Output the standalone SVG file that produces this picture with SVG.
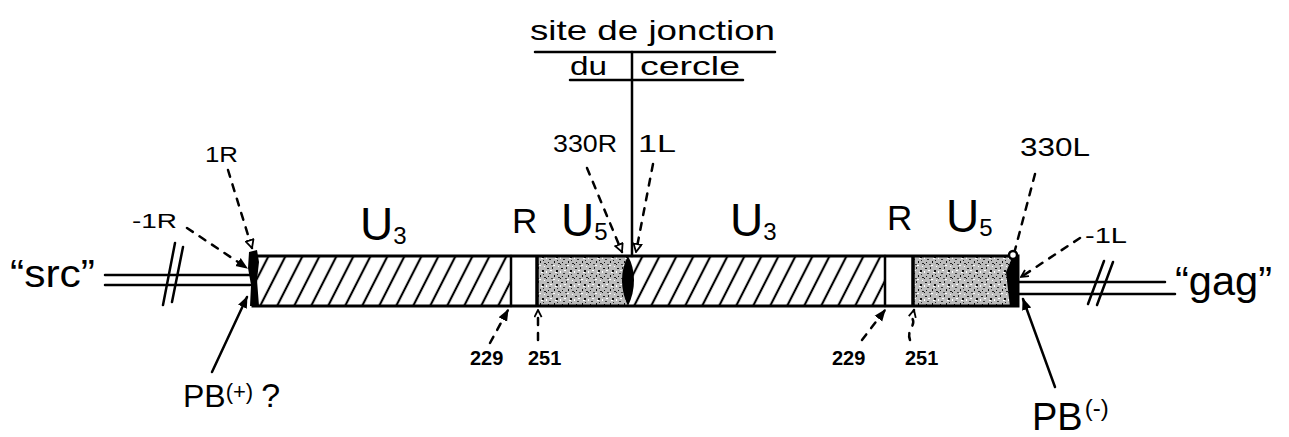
<svg xmlns="http://www.w3.org/2000/svg" width="1289" height="437" viewBox="0 0 1289 437">
<style>
text{font-family:"Liberation Sans","DejaVu Sans",sans-serif;fill:#000}
.ln{stroke:#000;stroke-width:2.5;fill:none;stroke-linecap:round}
.dash{stroke:#000;stroke-width:2.5;fill:none;stroke-dasharray:7 8;stroke-linecap:round}
.num{font-size:20px;font-weight:bold}
.big{font-size:46px}
.sub{font-size:24px}
</style>
<defs>
<pattern id="hatch" patternUnits="userSpaceOnUse" width="17" height="10" patternTransform="skewX(-27)">
<rect width="17" height="10" fill="#fff"/>
<line x1="8" y1="-1" x2="8" y2="11" stroke="#000" stroke-width="2.4"/>
</pattern>
<pattern id="stip" patternUnits="userSpaceOnUse" width="14" height="14">
<rect width="14" height="14" fill="#bcbcbc"/>
<rect x="1" y="2" width="2" height="1" fill="#111"/>
<rect x="6" y="1" width="1" height="2" fill="#222"/>
<rect x="10" y="4" width="2" height="2" fill="#111"/>
<rect x="3" y="7" width="2" height="1" fill="#333"/>
<rect x="8" y="9" width="1" height="2" fill="#111"/>
<rect x="12" y="11" width="2" height="1" fill="#222"/>
<rect x="0" y="12" width="1" height="1" fill="#111"/>
<rect x="5" y="12" width="2" height="1" fill="#444"/>
<rect x="2" y="10" width="1" height="1" fill="#111"/>
<rect x="11" y="8" width="1" height="1" fill="#222"/>
<rect x="12" y="0" width="1" height="1" fill="#fff"/>
<rect x="4" y="4" width="2" height="1" fill="#fff"/>
<rect x="9" y="6" width="2" height="1" fill="#fff"/>
<rect x="0" y="5" width="1" height="2" fill="#fff"/>
<rect x="7" y="13" width="2" height="1" fill="#fff"/>
</pattern>
<marker id="open" viewBox="0 0 10 10" refX="9" refY="5" markerWidth="10" markerHeight="10" markerUnits="userSpaceOnUse" orient="auto">
<path d="M1,1 L9,5 L1,9 Z" fill="#fff" stroke="#000" stroke-width="1.8"/>
</marker>
<marker id="vee" viewBox="0 0 10 10" refX="9" refY="5" markerWidth="9" markerHeight="9" markerUnits="userSpaceOnUse" orient="auto">
<path d="M1,1 L9,5 L1,9" fill="none" stroke="#000" stroke-width="2"/>
</marker>
<marker id="solid" viewBox="0 0 10 10" refX="9" refY="5" markerWidth="12" markerHeight="12" markerUnits="userSpaceOnUse" orient="auto">
<path d="M0,1 L10,5 L0,9 Z" fill="#000"/>
</marker>
</defs>
<rect width="1289" height="437" fill="#fff"/>

<g id="bar">
<rect x="253" y="256" width="258" height="50" fill="url(#hatch)"/>
<rect x="511" y="256" width="25" height="50" fill="#fff"/>
<rect x="536" y="256" width="92" height="50" fill="url(#stip)"/>
<rect x="628" y="256" width="257" height="50" fill="url(#hatch)"/>
<rect x="885" y="256" width="27" height="50" fill="#fff"/>
<rect x="912" y="256" width="100" height="50" fill="url(#stip)"/>
<rect x="253" y="256" width="765" height="50" fill="none" stroke="#000" stroke-width="3"/>
<line class="ln" x1="511" y1="256" x2="511" y2="306"/>
<line x1="537" y1="256" x2="537" y2="306" stroke="#000" stroke-width="3.5"/>
<line class="ln" x1="885" y1="256" x2="885" y2="306"/>
<line x1="913" y1="256" x2="913" y2="306" stroke="#000" stroke-width="3.5"/>
<path d="M249,252 L257,250 L259,262 L257,280 L259,306 L250,306 L251,285 L248,268 Z" fill="#000"/>
<path d="M628,256 C620,270 620,290 628,306 C636,290 636,270 628,256 Z" fill="#000"/>
<path d="M1012,258 L1018,258 L1018,307 L1010,307 L1006,272 Z" fill="#000"/>
<circle cx="1013" cy="255" r="4" fill="#fff" stroke="#000" stroke-width="2.5"/>
</g>

<g id="src">
<line class="ln" x1="105" y1="275" x2="250" y2="275"/>
<line class="ln" x1="105" y1="285" x2="250" y2="285"/>
<line class="ln" x1="175" y1="243" x2="163" y2="305"/>
<line class="ln" x1="183" y1="247" x2="172" y2="302"/>
<text x="10" y="287" font-size="38" textLength="85" lengthAdjust="spacingAndGlyphs">“src”</text>
</g>

<g id="gag">
<line class="ln" x1="1018" y1="282" x2="1165" y2="282"/>
<line class="ln" x1="1018" y1="294" x2="1175" y2="294"/>
<line class="ln" x1="1104" y1="261" x2="1088" y2="304"/>
<line class="ln" x1="1113" y1="262" x2="1097" y2="305"/>
<text x="1175" y="295" font-size="40" textLength="97" lengthAdjust="spacingAndGlyphs">“gag”</text>
</g>

<g id="title">
<text x="530" y="40" font-size="28" textLength="245" lengthAdjust="spacingAndGlyphs">site de jonction</text>
<line class="ln" x1="535" y1="52" x2="775" y2="52"/>
<text x="570" y="75" font-size="26" textLength="37" lengthAdjust="spacingAndGlyphs">du</text>
<text x="640" y="75" font-size="26" textLength="100" lengthAdjust="spacingAndGlyphs">cercle</text>
<line class="ln" x1="570" y1="80" x2="743" y2="80"/>
</g>

<g id="seg-labels">
<text x="360" y="240" class="big">U<tspan class="sub" dy="4">3</tspan></text>
<text x="512" y="233" font-size="35">R</text>
<text x="561" y="236" class="big">U<tspan class="sub" dy="4">5</tspan></text>
<text x="730" y="236" class="big">U<tspan class="sub" dy="4">3</tspan></text>
<text x="887" y="230" font-size="35">R</text>
<text x="946" y="232" class="big">U<tspan class="sub" dy="4">5</tspan></text>
</g>

<g id="pos-labels">
<text x="205" y="162" font-size="22" textLength="33" lengthAdjust="spacingAndGlyphs">1R</text>
<text x="132" y="228" font-size="20" textLength="45" lengthAdjust="spacingAndGlyphs">-1R</text>
<text x="553" y="152" font-size="24" textLength="64" lengthAdjust="spacingAndGlyphs">330R</text>
<text x="638" y="152" font-size="24" textLength="38" lengthAdjust="spacingAndGlyphs">1L</text>
<text x="1020" y="156" font-size="26" textLength="70" lengthAdjust="spacingAndGlyphs">330L</text>
<text x="1085" y="243" font-size="22" textLength="42" lengthAdjust="spacingAndGlyphs">-1L</text>
<text x="470" y="365" class="num">229</text>
<text x="528" y="365" class="num">251</text>
<text x="832" y="365" class="num">229</text>
<text x="905" y="365" class="num">251</text>
</g>

<g id="pb-plus">
<text x="183" y="407" font-size="32">PB<tspan font-size="22" dy="-8">(+)</tspan><tspan dx="8" dy="8" font-size="34">?</tspan></text>
</g>
<g id="pb-minus">
<text x="1032" y="430" font-size="38">PB<tspan font-size="24" dy="-14" dx="2">(-)</tspan></text>
</g>

<g id="connectors">
<line class="ln" x1="632" y1="52" x2="632" y2="256"/>
<line class="dash" x1="228" y1="170" x2="252" y2="248" marker-end="url(#open)"/>
<line class="dash" x1="187" y1="228" x2="247" y2="268" marker-end="url(#solid)"/>
<line class="dash" x1="587" y1="168" x2="622" y2="252" marker-end="url(#open)"/>
<line class="dash" x1="653" y1="164" x2="636" y2="252" marker-end="url(#open)"/>
<line class="dash" x1="1035" y1="174" x2="1015" y2="250"/>
<line class="dash" x1="1080" y1="238" x2="1021" y2="277" marker-end="url(#vee)"/>
<line class="dash" x1="490" y1="343" x2="508" y2="310" marker-end="url(#solid)"/>
<line class="dash" x1="538" y1="340" x2="538" y2="310" marker-end="url(#vee)"/>
<line class="dash" x1="862" y1="340" x2="885" y2="310" marker-end="url(#solid)"/>
<path class="dash" d="M910,340 C906,330 917,325 912,318 L914,310" marker-end="url(#vee)"/>
<line class="ln" x1="212" y1="372" x2="247" y2="297" marker-end="url(#solid)"/>
<line class="ln" x1="1055" y1="387" x2="1023" y2="299" marker-end="url(#solid)"/>
</g>
</svg>
